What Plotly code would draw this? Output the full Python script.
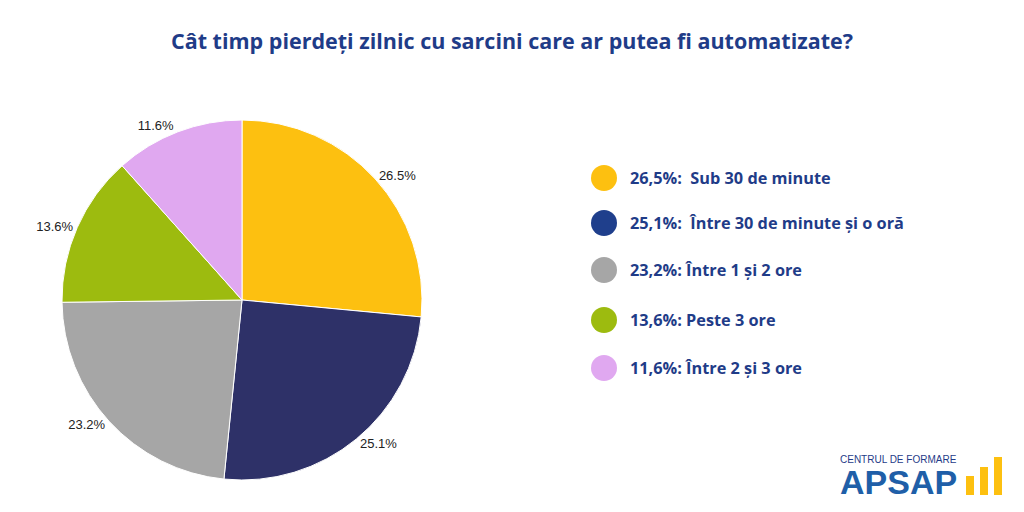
import plotly.graph_objects as go

labels = ["Sub 30 de minute", "Între 30 de minute și o oră", "Între 1 și 2 ore", "Peste 3 ore", "Între 2 și 3 ore"]
values = [26.5, 25.1, 23.2, 13.6, 11.6]
legend_text = ["26,5%:  Sub 30 de minute", "25,1%:  Între 30 de minute și o oră",
               "23,2%: Între 1 și 2 ore", "13,6%: Peste 3 ore", "11,6%: Între 2 și 3 ore"]
colors = ["#FDC010", "#2E3168", "#A6A6A6", "#9DBB0F", "#E0A8F0"]
legend_colors = ["#FDC010", "#1F3F8C", "#A6A6A6", "#9DBB0F", "#E0A8F0"]
title = "Cât timp pierdeți zilnic cu sarcini care ar putea fi automatizate?"

W, H = 1024, 512
O = 8  # page offset
fig = go.Figure(go.Pie(
    labels=labels, values=values, sort=False, direction="clockwise", rotation=0,
    marker=dict(colors=colors, line=dict(color="white", width=1)),
    texttemplate="%{value:.1f}%", textposition="outside",
    textfont=dict(family="Liberation Sans", size=13, color="#222"),
    showlegend=False, hoverinfo="label+value",
    domain=dict(x=[(62-O)/W, (422-O)/W], y=[1-(480-O)/H, 1-(120-O)/H]),
))

def px(x): return (x-O)/W
def py(y): return 1-(y-O)/H

shapes, anns = [], []
ys = [178, 223, 270, 320, 368]
for t, c, y in zip(legend_text, legend_colors, ys):
    r = 13
    shapes.append(dict(type="circle", xref="paper", yref="paper",
                       x0=px(604-r), x1=px(604+r), y0=py(y+r), y1=py(y-r),
                       fillcolor=c, line=dict(width=0)))
    anns.append(dict(text=t, xref="paper", yref="paper", x=px(628), y=py(y),
                     xanchor="left", yanchor="middle", showarrow=False,
                     font=dict(family="Open Sans", size=16.3, color="#1F3C88", weight="bold")))

anns.append(dict(text=title, xref="paper", yref="paper", x=px(512), y=py(40),
                 xanchor="center", yanchor="middle", showarrow=False,
                 font=dict(family="Open Sans", size=21.5, color="#1F3C88", weight="bold")))
# logo
anns.append(dict(text="CENTRUL DE FORMARE", xref="paper", yref="paper", x=px(898), y=py(459),
                 xanchor="center", yanchor="middle", showarrow=False,
                 font=dict(family="Liberation Sans", size=10, color="#1F3C88")))
anns.append(dict(text="<b>APSAP</b>", xref="paper", yref="paper", x=px(898), y=py(482),
                 xanchor="center", yanchor="middle", showarrow=False,
                 font=dict(family="Liberation Sans", size=34, color="#1F5FA8")))
for x, top in [(966, 476), (980, 467), (994, 457)]:
    shapes.append(dict(type="rect", xref="paper", yref="paper", x0=px(x), x1=px(x+8),
                       y0=py(495), y1=py(top), fillcolor="#FDC010", line=dict(width=0)))

fig.update_layout(width=W, height=H, margin=dict(l=0, r=0, t=0, b=0),
                  paper_bgcolor="white", plot_bgcolor="white",
                  shapes=shapes, annotations=anns)
fig.write_html("out.html")
